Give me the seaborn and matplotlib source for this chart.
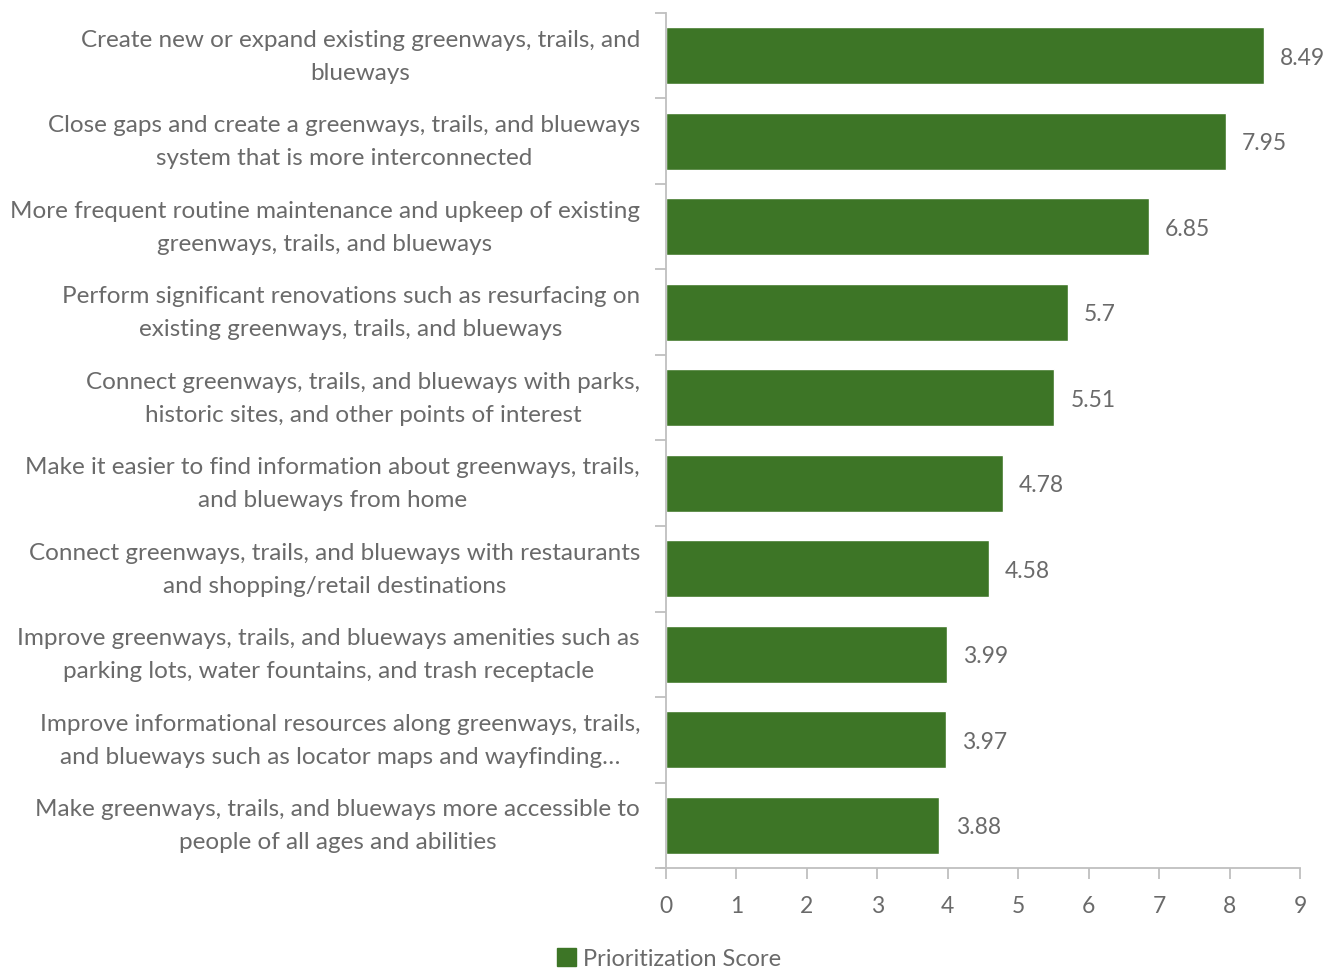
import matplotlib
matplotlib.use("Agg")
import matplotlib.pyplot as plt
import seaborn as sns
import pandas as pd
import numpy as np
from matplotlib.patches import Patch
from matplotlib.transforms import blended_transform_factory, ScaledTranslation

categories = [
    "Create new or expand existing greenways, trails, and\nblueways",
    "Close gaps and create a greenways, trails, and blueways\nsystem that is more interconnected",
    "More frequent routine maintenance and upkeep of existing\ngreenways, trails, and blueways",
    "Perform significant renovations such as resurfacing on\nexisting greenways, trails, and blueways",
    "Connect greenways, trails, and blueways with parks,\nhistoric sites, and other points of interest",
    "Make it easier to find information about greenways, trails,\nand blueways from home",
    "Connect greenways, trails, and blueways with restaurants\nand shopping/retail destinations",
    "Improve greenways, trails, and blueways amenities such as\nparking lots, water fountains, and trash receptacle",
    "Improve informational resources along greenways, trails,\nand blueways such as locator maps and wayfinding\u2026",
    "Make greenways, trails, and blueways more accessible to\npeople of all ages and abilities",
]
scores = [8.49, 7.95, 6.85, 5.7, 5.51, 4.78, 4.58, 3.99, 3.97, 3.88]
score_labels = ["8.49", "7.95", "6.85", "5.7", "5.51", "4.78", "4.58", "3.99", "3.97", "3.88"]
x_ticks = [0, 1, 2, 3, 4, 5, 6, 7, 8, 9]
series_name = "Prioritization Score"

GREEN = "#3d7526"
GRAY_TXT = "#6a6a6a"
SPINE = "#bfbfbf"

sns.set_style("white")
plt.rcParams['font.family'] = ['Lato', 'DejaVu Sans']
plt.rcParams['font.weight'] = 'normal'

df = pd.DataFrame({"cat": categories, "score": scores})

fig = plt.figure(figsize=(13.38, 9.71), dpi=100)
ax = fig.add_axes([666/1338, 1 - 868/971, (1300-666)/1338, (868-13)/971])

sns.barplot(data=df, x="score", y="cat", orient="h", color=GREEN, width=0.67,
            saturation=1, ax=ax)

ax.set_xlim(0, 9)
ax.set_ylim(len(categories) - 0.5, -0.5)
ax.set_xlabel("")
ax.set_ylabel("")

for s in ["top", "right"]:
    ax.spines[s].set_visible(False)
for s in ["left", "bottom"]:
    ax.spines[s].set_visible(True)
    ax.spines[s].set_color(SPINE)
    ax.spines[s].set_linewidth(1.3)

ax.set_xticks(x_ticks)
ax.set_xticklabels([str(t) for t in x_ticks], fontsize=16.5, color=GRAY_TXT)
ax.tick_params(axis="x", direction="out", length=8, width=1.3, color=SPINE, pad=12, bottom=True)

# category labels drawn as text, y ticks only at boundaries
ax.set_yticks(np.arange(-0.5, len(categories), 1.0))
ax.set_yticklabels([])
ax.tick_params(axis="y", which="major", direction="out", length=8, width=1.3, color=SPINE, left=True)

trans = blended_transform_factory(ax.transAxes, ax.transData) + \
    ScaledTranslation(-26/100, -1/100, fig.dpi_scale_trans)
for i, cat in enumerate(categories):
    ax.text(0, i, cat, transform=trans, ha="right", va="center", multialignment="center",
            fontsize=17.5, color=GRAY_TXT, linespacing=1.7)

for i, (v, lab) in enumerate(zip(scores, score_labels)):
    ax.text(v + 0.23, i + 0.03, lab, va="center", ha="left", fontsize=16.5, color=GRAY_TXT)

ax.plot([-0.08, 0], [len(categories) - 0.5] * 2, color=SPINE, lw=1.3, clip_on=False)

handles = [Patch(facecolor=GREEN, edgecolor=GREEN, label=series_name)]
fig.legend(handles=handles, loc="center", bbox_to_anchor=(0.5, 1 - 959/971), frameon=False,
           fontsize=17, handlelength=0.8, handleheight=0.8, handletextpad=0.3,
           labelcolor=GRAY_TXT)

fig.savefig("out.png", dpi=100)
